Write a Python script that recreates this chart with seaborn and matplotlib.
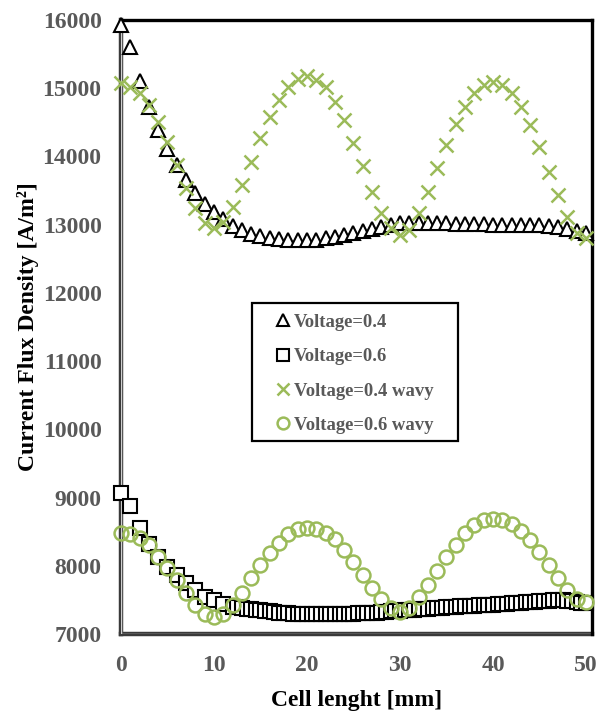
import numpy as np
import pandas as pd
import matplotlib
matplotlib.use("Agg")
import matplotlib.pyplot as plt
from matplotlib.patches import Rectangle
import seaborn as sns

# ---------------- data ----------------
x_1mm = np.arange(0, 51, 1.0)

v04 = [15920, 15610, 15110, 14730, 14390, 14110, 13870, 13650, 13460, 13310,
       13190, 13090, 12980, 12920, 12870, 12830, 12810, 12790, 12780, 12775,
       12775, 12780, 12800, 12820, 12850, 12880, 12910, 12940, 12970, 13000,
       13020, 13030, 13030, 13030, 13020, 13020, 13010, 13010, 13010, 13010,
       13000, 13000, 13000, 13000, 12990, 12990, 12980, 12970, 12940, 12910,
       12880]

v04_wavy = [15070, 15020, 14930, 14750, 14500, 14210, 13870, 13540, 13240, 13020,
            12950, 13040, 13260, 13580, 13920, 14270, 14580, 14830, 15020, 15130,
            15180, 15120, 15020, 14800, 14530, 14200, 13860, 13480, 13170, 12950,
            12850, 12920, 13170, 13480, 13830, 14170, 14480, 14730, 14930, 15050,
            15090, 15050, 14930, 14730, 14460, 14140, 13770, 13430, 13110, 12880,
            12800]

v06_wavy = [8480, 8460, 8400, 8300, 8130, 7970, 7790, 7600, 7430, 7290,
            7250, 7290, 7430, 7600, 7820, 8010, 8190, 8330, 8460, 8540,
            8560, 8540, 8480, 8390, 8235, 8060, 7870, 7680, 7510, 7380,
            7320, 7380, 7540, 7720, 7920, 8130, 8300, 8480, 8600, 8670,
            8690, 8670, 8610, 8510, 8380, 8200, 8010, 7820, 7640, 7520,
            7470]

x_v06 = np.concatenate([np.arange(0, 12.5, 1.0), np.arange(12.5, 50.25, 0.5)])
v06 = [9070, 8880, 8560, 8320, 8130, 7980, 7860, 7750, 7640, 7540, 7500, 7440, 7400,
       7390, 7380, 7370, 7360, 7350, 7345, 7335, 7330, 7320, 7315, 7310, 7305,
       7300, 7300, 7295, 7295, 7290, 7290, 7290, 7290, 7290, 7295, 7295, 7295,
       7300, 7300, 7305, 7305, 7310, 7310, 7315, 7320, 7325, 7330, 7335, 7340,
       7345, 7350, 7355, 7360, 7365, 7370, 7375, 7380, 7385, 7390, 7395, 7400,
       7405, 7410, 7410, 7415, 7420, 7420, 7425, 7430, 7435, 7440, 7445, 7450,
       7455, 7460, 7465, 7470, 7475, 7480, 7485, 7490, 7495, 7495, 7495, 7490,
       7480, 7470, 7460, 7450]

x_ticks = [0, 10, 20, 30, 40, 50]
y_ticks = [7000, 8000, 9000, 10000, 11000, 12000, 13000, 14000, 15000, 16000]
labels = ["Voltage=0.4", "Voltage=0.6", "Voltage=0.4 wavy", "Voltage=0.6 wavy"]

# ---------------- style ----------------
sns.set_theme(style="white")
plt.rcParams['font.family'] = ['Liberation Serif', 'DejaVu Serif']
plt.rcParams['font.weight'] = 'bold'

GREEN = "#9BBB59"
GRAY_TXT = "#595959"

fig = plt.figure(figsize=(5.97, 7.11), dpi=100)
ax = fig.add_axes([121 / 597, 1 - 634 / 711, (592 - 121) / 597, (634 - 20) / 711])

df04 = pd.DataFrame({"x": x_1mm, "y": v04})
df06 = pd.DataFrame({"x": x_v06, "y": v06})
df04w = pd.DataFrame({"x": x_1mm, "y": v04_wavy})
df06w = pd.DataFrame({"x": x_1mm, "y": v06_wavy})

common = dict(linestyle="none", ax=ax, clip_on=False)
sns.lineplot(data=df04, x="x", y="y", marker="^", ms=10, mfc="white", mec="black",
             mew=1.5, color="black", label=labels[0], zorder=3, **common)
sns.lineplot(data=df06, x="x", y="y", marker="s", ms=9.5, mfc="white", mec="black",
             mew=1.5, color="black", label=labels[1], zorder=3, **common)
sns.lineplot(data=df04w, x="x", y="y", marker="x", ms=9.5, mec=GREEN,
             mew=1.8, color=GREEN, label=labels[2], zorder=4, **common)
sns.lineplot(data=df06w, x="x", y="y", marker="o", ms=10, mfc="none", mec=GREEN,
             mew=1.8, color=GREEN, label=labels[3], zorder=4, **common)

handles, lbls = ax.get_legend_handles_labels()
if ax.get_legend() is not None:
    ax.get_legend().remove()

ax.set_xlim(0, 50.65)
ax.set_ylim(7000, 16000)
ax.set_xticks(x_ticks)
ax.set_yticks(y_ticks)
ax.tick_params(axis="both", length=0, labelsize=17, labelcolor=GRAY_TXT)
ax.tick_params(axis="y", pad=14)
ax.tick_params(axis="x", pad=15)
for lab in ax.get_xticklabels() + ax.get_yticklabels():
    lab.set_fontweight("bold")

ax.set_xlabel("Cell lenght [mm]", fontsize=17, fontweight="bold", color="black")
ax.set_ylabel("Current Flux Density [A/m²]", fontsize=17, fontweight="bold",
              color="black")
ax.yaxis.set_label_coords(-0.175, 0.5)
ax.xaxis.set_label_coords(0.5, -0.092)

for side in ["top", "right"]:
    ax.spines[side].set_color("black")
    ax.spines[side].set_linewidth(2.4)
for side in ["left", "bottom"]:
    ax.spines[side].set_color("#3a3a3a")
    ax.spines[side].set_linewidth(3.2)
    ax.spines[side].set_zorder(2)
ax.axvline(0, color="#d0d0d0", lw=1.0, zorder=2.5)
ax.axhline(7000, color="#d0d0d0", lw=1.0, zorder=2.5)

# legend
leg = fig.legend(handles, lbls, loc="upper left",
                 bbox_to_anchor=(261 / 597, 1 - 299 / 711),
                 frameon=False, markerscale=0.85, handlelength=0.8,
                 handletextpad=0.15, labelspacing=0.93, borderpad=0.3,
                 prop={"family": "Liberation Serif", "weight": "bold", "size": 13.4})
for t in leg.get_texts():
    t.set_color(GRAY_TXT)
fig.add_artist(Rectangle((252 / 597, 1 - 441 / 711), (458 - 252) / 597, (441 - 303) / 711,
                         transform=fig.transFigure, fill=False, edgecolor="black", lw=1.6))

fig.savefig("out.png", dpi=100)
